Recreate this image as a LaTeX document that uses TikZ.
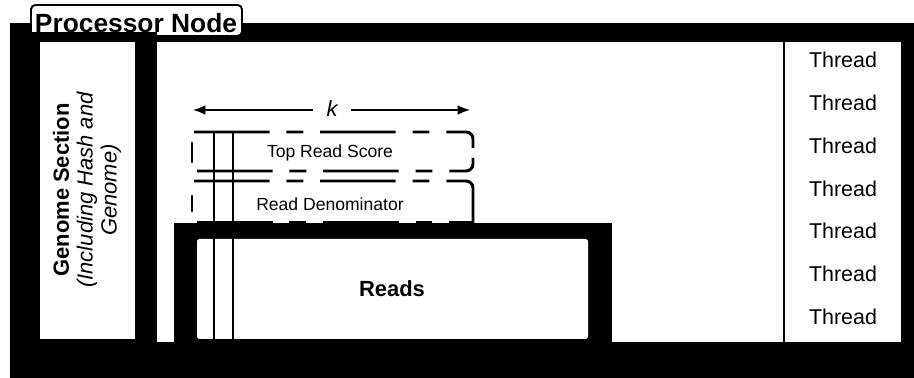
\documentclass[tikz,border=0pt]{standalone}
\usepackage{fontspec}
\setmainfont{Liberation Sans}
\usetikzlibrary{arrows.meta}
\def\fsThread{\fontsize{12.2}{14}\selectfont}
\def\fsBox{\fontsize{10}{12}\selectfont}

\begin{document}
\begin{tikzpicture}[x=0.02cm, y=-0.02cm,
    dashbox/.style={line width=1.7pt, dash pattern=on 43pt off 9.6pt on 9.6pt off 9.6pt, rounded corners=4pt},
    sidemark/.style={line width=1.7pt, line cap=round},
    thin line/.style={line width=0.85pt},
    karrow/.style={line width=0.85pt, -{Latex[length=7pt, width=5.5pt]}}]
    \useasboundingbox (0,0) rectangle (914,378);
    % processor frame
    \fill[black] (10,23) rectangle (914,378);
    \fill[white] (157,42) rectangle (901,342);
    \draw[line width=1.1pt] (784,42) -- (784,342);
    % label
    \draw[line width=1.1pt, fill=white, rounded corners=2.5pt] (31,5) rectangle (242,36);
    \node[anchor=base, inner sep=0pt, font=\fontsize{15}{18}\selectfont\bfseries]
      (proc) at (136,33) {Processor Node};
    % genome section
    \fill[black] (10,32) rectangle (157,378);
    \fill[white] (40,42) rectangle (135,339);
    \node[rotate=90, align=center, font=\fontsize{12.5}{13.6}\selectfont]
      (genome) at (87,190)
      {\bfseries Genome Section\\ \itshape (Including Hash and\\ \itshape Genome)};
    % top read score
    \draw[dashbox] (194,132) -- (473,132) -- (473,148);
    \draw[dashbox] (197,171) -- (473,171) -- (473,158);
    \draw[sidemark] (192,143) -- (192,162);
    \node[font=\fsBox] (score) at (330,153) {Top Read Score};
    % read denominator
    \draw[dashbox] (194,181) -- (473,181) -- (473,224);
    \draw[dashbox] (197,222) -- (473,222);
    \draw[sidemark] (192,196) -- (192,211);
    \node[font=\fsBox] (denom) at (330,204) {Read Denominator};
    % reads
    \fill[black] (174,223) rectangle (612,378);
    \fill[white, rounded corners=1pt] (197,239) rectangle (588,339);
    \node[font=\fontsize{12.5}{15}\selectfont\bfseries] (reads) at (392,289) {Reads};
    \draw[thin line] (214,132) -- (214,339);
    \draw[thin line] (233,132) -- (233,339);
    % k
    \node[font=\fontsize{12.5}{15}\selectfont\itshape, inner sep=2pt] (k) at (332,109) {k};
    \coordinate (kL) at (193,110);
    \coordinate (kR) at (470,110);
    \draw[karrow] (k.west) ++(-10,1) -- (kL);
    \draw[karrow] (k.east) ++(10,1) -- (kR);
    % threads
    \foreach \i in {0,...,6}
      \node[font=\fsThread] (thread\i) at (843,{60+42.8*\i}) {Thread};
\end{tikzpicture}
\end{document}
